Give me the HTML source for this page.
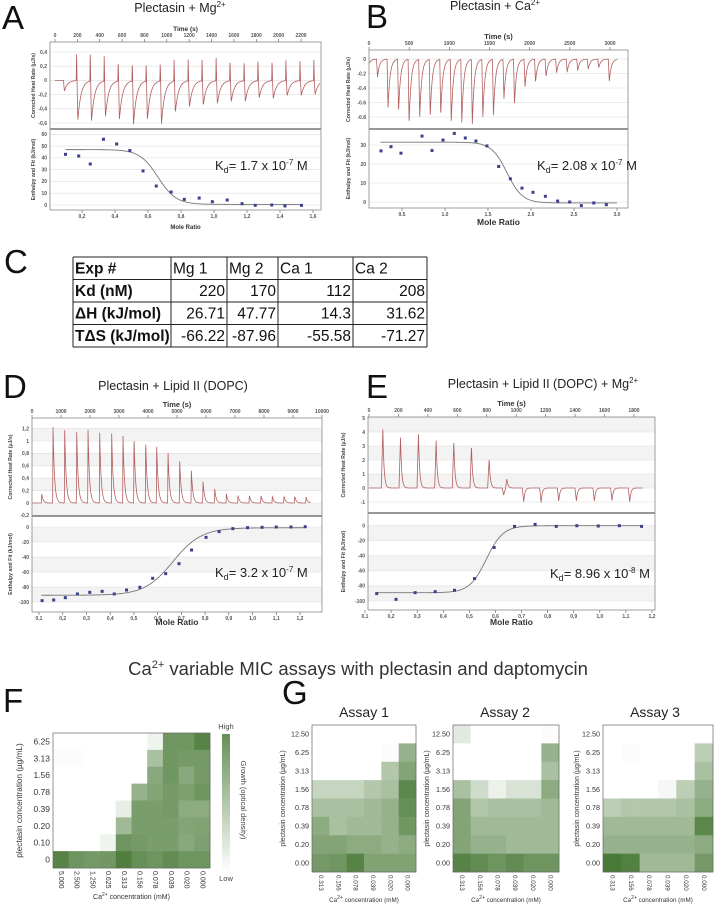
<!DOCTYPE html>
<html><head><meta charset="utf-8"><style>
html,body{margin:0;padding:0;background:#fff;}
svg{display:block;font-family:"Liberation Sans",sans-serif;}
</style></head><body>
<svg id="fig" width="716" height="906" viewBox="0 0 716 906" xmlns="http://www.w3.org/2000/svg"></svg>
<script>
// ---------- DATA ----------
// Panel A (Plectasin + Mg2+)
const A_TIMES=[70,190,312,437,562,688,812,938,1062,1188,1312,1438,1562,1688,1812,1938,2062,2188,2312];
const A_UP=[0,0.43,0.44,0.36,0.30,0.28,0.25,0.27,0.30,0.31,0.33,0.35,0.32,0.30,0.32,0.31,0.30,0.30,0.31];
const A_DIP=[-0.15,-0.57,-0.58,-0.52,-0.55,-0.62,-0.55,-0.62,-0.45,-0.38,-0.35,-0.33,-0.30,-0.30,-0.25,-0.26,-0.22,-0.22,-0.20];
const A_RATIO=[0.10,0.18,0.25,0.33,0.41,0.49,0.57,0.65,0.74,0.82,0.91,0.99,1.08,1.17,1.25,1.35,1.43,1.53];
const A_ENTH=[43,41.6,34.8,55.8,51.8,46.2,28.9,16.1,11,4.8,5.9,2.8,4.2,1.1,-0.3,0,-0.8,-0.3];
const A_FIT=[47,0.5,0.66,0.055];
const A_TIME_TICKS=[0,200,400,600,800,1000,1200,1400,1600,1800,2000,2200];
const A_HEAT_TICKS=[0.4,0.2,0,-0.2,-0.4,-0.6];
const A_ENTH_TICKS=[60,50,40,30,20,10,0];
const A_RATIO_TICKS=[0.2,0.4,0.6,0.8,1.0,1.2,1.4,1.6];
// Panel B (Plectasin + Ca2+)
const B_TIMES=[-40,91,222,353,484,616,747,878,1009,1140,1271,1402,1534,1665,1796,1927,2058,2189,2320,2452,2583,2714,2845,2976];
const B_DIP=[-0.18,-0.25,-0.68,-0.72,-0.89,-0.81,-0.79,-0.77,-0.88,-0.88,-0.9,-0.81,-0.78,-0.55,-0.62,-0.39,-0.32,-0.24,-0.19,-0.18,-0.16,-0.14,-0.12,-0.31];
const B_RATIO=[0.256,0.372,0.488,0.733,0.849,0.977,1.108,1.236,1.36,1.488,1.624,1.76,1.895,2.023,2.167,2.31,2.45,2.585,2.73,2.876];
const B_ENTH=[26.9,29.1,25.7,34.7,27.1,32.6,36.1,33.7,32.1,29.5,18.7,12.2,7.3,5.1,3.0,0.5,0,-1.9,-0.5,-1.4];
const B_FIT=[31.5,-0.5,1.72,0.09];
const B_TIME_TICKS=[0,500,1000,1500,2000,2500,3000];
const B_HEAT_TICKS=[0,-0.2,-0.4,-0.6,-0.8];
const B_ENTH_TICKS=[30,20,10,0];
const B_RATIO_TICKS=[0.5,1.0,1.5,2.0,2.5,3.0];
// Panel D (Plectasin + Lipid II)
const D_TIMES=[322,713,1115,1529,1920,2322,2736,3126,3506,3908,4287,4678,5080,5483,5885,6287,6690,7092,7483,7885,8276,8678,9046,9437];
const D_UP=[0.15,1.25,1.2,1.17,1.18,1.13,1.12,1.08,1.08,1.02,0.96,0.84,0.7,0.53,0.35,0.23,0.15,0.12,0.12,0.12,0.11,0.11,0.11,0.1];
const D_RATIO=[0.113,0.162,0.211,0.262,0.314,0.366,0.417,0.469,0.525,0.579,0.634,0.690,0.743,0.804,0.859,0.917,0.979,1.04,1.1,1.162,1.222];
const D_ENTH=[-98.2,-97.3,-94.2,-89.3,-87.1,-85.8,-89.3,-84,-80.4,-68.4,-62.2,-48.9,-30.7,-13.8,-6.2,-2.2,-0.9,-0.4,0,0,0.4];
const D_FIT=[-91,-1,0.665,0.06];
const D_TIME_TICKS=[0,1000,2000,3000,4000,5000,6000,7000,8000,9000,10000];
const D_HEAT_TICKS=[1.2,1.0,0.8,0.6,0.4,0.2,0,-0.2];
const D_ENTH_TICKS=[0,-20,-40,-60,-80,-100];
const D_RATIO_TICKS=[0.1,0.2,0.3,0.4,0.5,0.6,0.7,0.8,0.9,1.0,1.1,1.2];
// Panel E (Plectasin + Lipid II + Mg2+)
const E_TIMES=[84,204,326,446,566,686,806,905,926,1041,1159,1279,1399,1521,1641,1761];
const E_AMP=[4.3,3.6,3.9,3.4,3.3,3.0,2.1,-0.5,0.7,-1.0,-1.05,-0.95,-0.95,-0.95,-0.9,-1.0];
const E_RATIO=[0.145,0.219,0.292,0.369,0.443,0.52,0.595,0.673,0.752,0.833,0.912,0.994,1.075,1.16];
const E_ENTH=[-90.2,-97.8,-88.9,-87.6,-85.8,-70.2,-28.9,-0.9,1.8,-0.9,0,-0.4,0,-0.9];
const E_FIT=[-89,0,0.565,0.032];
const E_TIME_TICKS=[0,200,400,600,800,1000,1200,1400,1600,1800];
const E_HEAT_TICKS=[5,4,3,2,1,0,-1];
const E_ENTH_TICKS=[0,-20,-40,-60,-80,-100];
const E_RATIO_TICKS=[0.1,0.2,0.3,0.4,0.5,0.6,0.7,0.8,0.9,1.0,1.1,1.2];
// Table C
const TABLE_HEAD=["Exp #","Mg 1","Mg 2","Ca 1","Ca 2"];
const TABLE_ROWS=[["Kd (nM)","220","170","112","208"],["ΔH (kJ/mol)","26.71","47.77","14.3","31.62"],["TΔS (kJ/mol)","-66.22","-87.96","-55.58","-71.27"]];
// Heatmap F
const F_ROWS=["6.25","3.13","1.56","0.78","0.39","0.20","0.10","0"];
const F_COLS=["5.000","2.500","1.250","0.625","0.313","0.156","0.078","0.039","0.020","0.000"];
const F_VALUES=[
[0,0,0,0,0,0,0.08,0.75,0.75,0.88],
[0.02,0.02,0,0,0,0,0.45,0.75,0.72,0.72],
[0,0,0,0,0,0,0.62,0.75,0.62,0.72],
[0,0,0,0,0,0.55,0.65,0.72,0.68,0.76],
[0,0,0,0,0.12,0.7,0.7,0.72,0.6,0.6],
[0,0,0,0,0.5,0.7,0.7,0.7,0.65,0.66],
[0,0,0,0.08,0.76,0.72,0.7,0.7,0.62,0.68],
[0.88,0.76,0.72,0.74,0.92,0.8,0.76,0.82,0.76,0.76]];
// Heatmaps G
const G_ROWS=["12.50","6.25","3.13","1.56","0.78","0.39","0.20","0.00"];
const G_COLS=["0.313","0.156","0.078","0.039","0.020","0.000"];
const G1_VALUES=[
[0,0,0,0,0,0],[0,0,0,0,0.02,0.55],[0,0,0,0,0.4,0.65],[0.3,0.3,0.3,0.4,0.45,0.85],
[0.45,0.45,0.45,0.5,0.55,0.8],[0.6,0.45,0.5,0.5,0.55,0.75],[0.65,0.65,0.6,0.6,0.55,0.6],[0.72,0.75,0.88,0.66,0.66,0.66]];
const G2_VALUES=[
[0.15,0,0,0,0,0.02],[0,0,0,0,0,0.55],[0,0,0,0,0,0.45],[0.45,0.25,0.1,0.2,0.2,0.6],
[0.65,0.4,0.45,0.45,0.45,0.5],[0.65,0.5,0.5,0.5,0.5,0.5],[0.65,0.55,0.55,0.5,0.5,0.5],[0.88,0.82,0.76,0.82,0.76,0.76]];
const G3_VALUES=[
[0,0,0,0,0,0],[0,0.02,0,0,0,0.35],[0,0,0,0,0,0.45],[0,0,0,0.05,0.35,0.55],
[0.35,0.4,0.4,0.4,0.45,0.6],[0.5,0.5,0.5,0.5,0.5,0.86],[0.55,0.55,0.55,0.55,0.55,0.6],[0.95,0.9,0.5,0.5,0.5,0.72]];

// ---------- HELPERS ----------
const NS='http://www.w3.org/2000/svg';
const svg=document.getElementById('fig');
function mk(tag,attrs,parent){const e=document.createElementNS(NS,tag);for(const k in attrs)e.setAttribute(k,attrs[k]);(parent||svg).appendChild(e);return e;}
function txt(s,x,y,attrs,parent){const e=mk('text',Object.assign({x:x,y:y},attrs||{}),parent);e.textContent=s;return e;}
function pulse(dt,rise,tau){if(dt<0)return 0;if(dt<rise)return dt/rise;return Math.exp(-(dt-rise)/tau);}
function sig(r,f){return f[1]+(f[0]-f[1])/(1+Math.exp((r-f[2])/f[3]));}
function fmt(v,comma){let s=String(Math.round(v*10)/10);if(comma)s=s.replace('.',',');return s;}
function lin(d0,d1,p0,p1){return v=>p0+(v-d0)*(p1-p0)/(d1-d0);}

function letter(s,x,y){const t=txt(s,x,y,{'font-size':33,fill:'#111'});

}
function title(parts,cx,y,name){const t=mk('text',{x:cx,y:y,'font-size':12.5,'text-anchor':'middle',fill:'#222'});


const a=mk('tspan',{},t);a.textContent=parts[0];
if(parts[1]){const b=mk('tspan',{'font-size':8,dy:-5},t);b.textContent=parts[1];}}

function drawITC(p){
  const g=mk('g',{});
  
  
  const cid='clip-'+p.name;
  const cp=mk('clipPath',{id:cid},g);mk('rect',{x:p.x0,y:p.top,width:p.x1-p.x0,height:p.bot-p.top},cp);
  const tx=lin(p.tRef[0],p.tRef[1],p.tPix[0],p.tPix[1]);
  const hy=lin(p.hRef[0],p.hRef[1],p.hPix[0],p.hPix[1]);
  const ey=lin(p.eRef[0],p.eRef[1],p.ePix[0],p.ePix[1]);
  const rx=lin(p.rRef[0],p.rRef[1],p.rPix[0],p.rPix[1]);
  if(p.bands){
    const hb=p.heatTicks;for(let i=0;i<hb.length-1;i+=2){const y1=hy(hb[i]),y2=hy(hb[i+1]);mk('rect',{x:p.x0,y:Math.max(p.top,Math.min(y1,y2)),width:p.x1-p.x0,height:Math.abs(y2-y1),fill:'#f3f3f3'},g);}
    const eb=p.enthTicks;for(let i=0;i<eb.length-1;i+=2){const y1=ey(eb[i]),y2=ey(eb[i+1]);mk('rect',{x:p.x0,y:Math.min(y1,y2),width:p.x1-p.x0,height:Math.abs(y2-y1),fill:'#f3f3f3'},g);}
  }
  p.heatTicks.forEach(v=>{const y=hy(v);if(y>p.top&&y<p.mid)mk('line',{x1:p.x0,x2:p.x1,y1:y,y2:y,stroke:'#ddd','stroke-width':0.6},g);
    txt(fmt(v,p.comma),p.x0-3,y+1.8,{'font-size':5,'font-weight':'bold','text-anchor':'end',fill:'#555'},g);});
  p.enthTicks.forEach(v=>{const y=ey(v);if(y>p.mid&&y<p.bot)mk('line',{x1:p.x0,x2:p.x1,y1:y,y2:y,stroke:'#ddd','stroke-width':0.6},g);
    txt(String(v),p.x0-3,y+1.8,{'font-size':5,'font-weight':'bold','text-anchor':'end',fill:'#555'},g);});
  p.timeTicks.forEach(t=>{const x=tx(t);mk('line',{x1:x,x2:x,y1:p.top-3,y2:p.top,stroke:'#555','stroke-width':0.6},g);
    txt(String(t),x,p.top-5,{'font-size':5,'font-weight':'bold','text-anchor':'middle',fill:'#555'},g);});
  const tt=txt('Time (s)',(p.x0+p.x1)/2,p.top-11,{'font-size':p.tSize||6.5,'font-weight':'bold','text-anchor':'middle',fill:'#333'},g);
  
  
  p.ratioTicks.forEach(r=>{const x=rx(r);mk('line',{x1:x,x2:x,y1:p.bot,y2:p.bot+3,stroke:'#555','stroke-width':0.6},g);
    txt(fmt(r,p.comma).replace(/^(\d)$/,p.comma?'$1,0':'$1.0'),x,p.bot+8,{'font-size':5,'font-weight':'bold','text-anchor':'middle',fill:'#555'},g);});
  const mr=txt('Mole Ratio',(p.x0+p.x1)/2,p.bot+p.mrDy,{'font-size':p.mrSize,'font-weight':'bold','text-anchor':'middle',fill:'#333'},g);
  
  
  const yt1=txt('Corrected Heat Rate (µJ/s)',0,0,{'font-size':5.2,'font-weight':'bold','text-anchor':'middle',fill:'#444',transform:'translate('+p.ytx+','+((p.top+p.mid)/2)+') rotate(-90)'},g);
  
  
  const yt2=txt('Enthalpy and Fit (kJ/mol)',0,0,{'font-size':5.2,'font-weight':'bold','text-anchor':'middle',fill:'#444',transform:'translate('+p.ytx+','+((p.mid+p.bot)/2)+') rotate(-90)'},g);
  
  
  let d='';const N=1600;
  for(let i=0;i<=N;i++){const t=p.tStart+(p.tEnd-p.tStart)*i/N;let v=0;
    p.comps.forEach(c=>{c.times.forEach((t0,k)=>{v+=c.amps[k]*pulse(t-t0-c.delay,c.rise,c.tau);});});
    d+=(i?'L':'M')+tx(t).toFixed(2)+','+hy(v).toFixed(2);}
  const tr=mk('path',{d:d,fill:'none',stroke:'#b35f5f','stroke-width':0.8,'clip-path':'url(#'+cid+')'},g);
  
  
  let fd='';const M=300;
  for(let i=0;i<=M;i++){const r=p.fitFrom+(p.fitTo-p.fitFrom)*i/M;fd+=(i?'L':'M')+rx(r).toFixed(2)+','+ey(sig(r,p.fit)).toFixed(2);}
  const fl=mk('path',{d:fd,fill:'none',stroke:'#777','stroke-width':0.9},g);
  
  
  p.ratio.forEach((r,i)=>{const c=mk('rect',{x:rx(r)-1.5,y:ey(p.enth[i])-1.5,width:3,height:3,fill:'#3b3f8c'},g);
    
    });
  mk('rect',{x:p.x0,y:p.top,width:p.x1-p.x0,height:p.bot-p.top,fill:'none',stroke:'#888','stroke-width':0.8},g);
  mk('line',{x1:p.x0,x2:p.x1,y1:p.mid,y2:p.mid,stroke:'#888','stroke-width':1.8},g);
  const k=mk('text',{x:p.kd[0],y:p.kd[1],'font-size':13,fill:'#222'},g);
  
  
  const k1=mk('tspan',{},k);k1.textContent='K';
  const k2=mk('tspan',{'font-size':9,dy:3},k);k2.textContent='d';
  const k3=mk('tspan',{dy:-3},k);k3.textContent='= '+p.kd[2]+' x 10';
  const k4=mk('tspan',{'font-size':8,dy:-5},k);k4.textContent=p.kd[3];
  const k5=mk('tspan',{dy:5},k);k5.textContent=' M';
}

letter('A',2,29);title(['Plectasin + Mg','2+'],180,12,'panel-a-title');
drawITC({name:'panel-a-itc',x0:50,x1:321,top:42,mid:129,bot:210,tRef:[0,2200],tPix:[55,301],hRef:[0.4,-0.6],hPix:[52,123],eRef:[60,0],ePix:[134.3,205],rRef:[0.2,1.6],rPix:[82,313],
 timeTicks:A_TIME_TICKS,heatTicks:A_HEAT_TICKS,enthTicks:A_ENTH_TICKS,ratioTicks:A_RATIO_TICKS,comma:true,ytx:35,mrDy:19,mrSize:6,
 tStart:0,tEnd:2370,comps:[{times:A_TIMES,amps:A_UP,delay:0,rise:3,tau:3},{times:A_TIMES,amps:A_DIP,delay:6,rise:8,tau:28}],
 ratio:A_RATIO,enth:A_ENTH,fit:A_FIT,fitFrom:0.1,fitTo:1.53,kd:[215,170,'1.7','-7']});

letter('B',366,28);title(['Plectasin + Ca','2+'],495,10,'panel-b-title');
drawITC({name:'panel-b-itc',x0:369,x1:628,top:50,mid:129,bot:208,tRef:[0,3000],tPix:[369,610],hRef:[0,-0.8],hPix:[59,117],eRef:[30,0],ePix:[145,202],rRef:[0.5,3.0],rPix:[402,617],
 timeTicks:B_TIME_TICKS,heatTicks:B_HEAT_TICKS,enthTicks:B_ENTH_TICKS,ratioTicks:B_RATIO_TICKS,comma:false,ytx:350,mrDy:17,mrSize:8.5,tSize:7.5,
 tStart:0,tEnd:3090,comps:[{times:B_TIMES,amps:B_DIP,delay:3,rise:12,tau:25}],
 ratio:B_RATIO,enth:B_ENTH,fit:B_FIT,fitFrom:0.25,fitTo:3.0,kd:[537,170,'2.08','-7']});

letter('D',3,398);title(['Plectasin + Lipid II (DOPC)'],173,390,'panel-d-title');
drawITC({name:'panel-d-itc',x0:32,x1:322,top:418,mid:516,bot:612,tRef:[0,10000],tPix:[32,322],hRef:[1.2,0],hPix:[428.6,503],eRef:[0,-100],ePix:[527,602],rRef:[0.1,1.2],rPix:[39,300],
 timeTicks:D_TIME_TICKS,heatTicks:D_HEAT_TICKS,enthTicks:D_ENTH_TICKS,ratioTicks:D_RATIO_TICKS,comma:true,ytx:12,mrDy:13,mrSize:8.5,tSize:7.5,bands:true,
 tStart:0,tEnd:9600,comps:[{times:D_TIMES,amps:D_UP,delay:0,rise:12,tau:50}],
 ratio:D_RATIO,enth:D_ENTH,fit:D_FIT,fitFrom:0.11,fitTo:1.22,kd:[215,577,'3.2','-7']});

letter('E',366,398);title(['Plectasin + Lipid II (DOPC) + Mg','2+'],543,388,'panel-e-title');
drawITC({name:'panel-e-itc',x0:368,x1:655,top:417,mid:513,bot:610,tRef:[0,1800],tPix:[369,634],hRef:[1,0],hPix:[474,488],eRef:[0,-100],ePix:[525.7,601],rRef:[0.1,1.2],rPix:[365,652],
 timeTicks:E_TIME_TICKS,heatTicks:E_HEAT_TICKS,enthTicks:E_ENTH_TICKS,ratioTicks:E_RATIO_TICKS,comma:true,ytx:345,mrDy:15,mrSize:8.5,tSize:7.5,bands:true,
 tStart:0,tEnd:1861,comps:[{times:E_TIMES,amps:E_AMP,delay:0,rise:10,tau:8}],
 ratio:E_RATIO,enth:E_ENTH,fit:E_FIT,fitFrom:0.14,fitTo:1.16,kd:[550,578,'8.96','-8']});

letter('C',4,273);
(function(){
  const g=mk('g',{});
  
  
  const cols=[73,171,227,278,353,427];const top=257,rh=22.5;
  const rows=[TABLE_HEAD].concat(TABLE_ROWS);
  rows.forEach((row,ri)=>{row.forEach((c,ci)=>{
    const y=top+rh*ri+16.5;const bold=ci===0;const right=ri>0&&ci>0;
    const t=txt(c,right?cols[ci+1]-2:cols[ci]+2,y,{'font-size':15.5,'font-weight':bold?'bold':'normal','text-anchor':right?'end':'start',fill:'#111'},g);
    
    });});
  for(let i=0;i<=rows.length;i++)mk('line',{x1:cols[0],x2:cols[5],y1:top+rh*i,y2:top+rh*i,stroke:'#222','stroke-width':1},g);
  cols.forEach(x=>mk('line',{x1:x,x2:x,y1:top,y2:top+rh*rows.length,stroke:'#222','stroke-width':1},g));
})();

function heatColor(v){const r=Math.round(255+(64-255)*v),gg=Math.round(255+(115-255)*v),b=Math.round(255+(45-255)*v);return 'rgb('+r+','+gg+','+b+')';}
function drawHeat(name,x0,y0,w,h,vals,rows,cols,fs,xfs,ytx,xtitleY){
  const g=mk('g',{});
  
  
  const cw=w/cols.length,ch=h/rows.length;
  vals.forEach((row,ri)=>row.forEach((v,ci)=>{const c=mk('rect',{x:x0+ci*cw,y:y0+ri*ch,width:cw+0.3,height:ch+0.3,fill:heatColor(v)},g);
    
    }));
  mk('rect',{x:x0,y:y0,width:w,height:h,fill:'none',stroke:'#666','stroke-width':0.7},g);
  rows.forEach((r,i)=>txt(r,x0-3,y0+(i+0.5)*ch+fs*0.35,{'font-size':fs,'text-anchor':'end',fill:'#333'},g));
  cols.forEach((c,i)=>{const x=x0+(i+0.5)*cw;txt(c,x,y0+h+3,{'font-size':xfs,'text-anchor':'start','dominant-baseline':'middle',fill:'#333',transform:'rotate(90 '+x+' '+(y0+h+3)+')'},g);});
  const yt=txt('plectasin concentration (µg/mL)',0,0,{'font-size':fs-0.3,'text-anchor':'middle',fill:'#333',transform:'translate('+ytx+','+(y0+h/2)+') rotate(-90)'},g);
  
  
  const xt=mk('text',{x:x0+w/2,y:xtitleY,'font-size':xfs,'text-anchor':'middle',fill:'#333'},g);
  
  
  const a=mk('tspan',{},xt);a.textContent='Ca';const b=mk('tspan',{'font-size':5,dy:-3},xt);b.textContent='2+';const c=mk('tspan',{dy:3},xt);c.textContent=' concentration (mM)';
}
(function(){const t=mk('text',{x:358,y:675,'font-size':18.5,'text-anchor':'middle',fill:'#333'});
 
 
 const a=mk('tspan',{},t);a.textContent='Ca';const b=mk('tspan',{'font-size':11,dy:-7},t);b.textContent='2+';const c=mk('tspan',{dy:7},t);c.textContent=' variable MIC assays with plectasin and daptomycin';})();
letter('F',3,712);
drawHeat('heatmap-f',53,733,157,135,F_VALUES,F_ROWS,F_COLS,8.5,7,22,899);
(function(){const defs=mk('defs',{});const lg=mk('linearGradient',{id:'cbar',x1:0,y1:0,x2:0,y2:1},defs);
 mk('stop',{offset:0,'stop-color':heatColor(0.8)},lg);mk('stop',{offset:1,'stop-color':'#ffffff'},lg);
 const r=mk('rect',{x:222,y:734,width:8,height:139,fill:'url(#cbar)'});
 
 
 txt('High',226,729,{'font-size':7.5,'text-anchor':'middle',fill:'#444'});
 txt('Low',226,881,{'font-size':7.5,'text-anchor':'middle',fill:'#444'});
 const gt=txt('Growth (optical density)',0,0,{'font-size':7.5,'text-anchor':'middle',fill:'#444',transform:'translate(241,800) rotate(90)'});
 
 })();
letter('G',282,704);
[['Assay 1',312],['Assay 2',453],['Assay 3',603]].forEach(a=>{const t=txt(a[0],a[1]+52,717,{'font-size':14,'text-anchor':'middle',fill:'#222'});
 
 });
drawHeat('heatmap-g-assay1',312,725,104,147,G1_VALUES,G_ROWS,G_COLS,7.2,6.3,285,902);
drawHeat('heatmap-g-assay2',453,725,106,147,G2_VALUES,G_ROWS,G_COLS,7.2,6.3,429,902);
drawHeat('heatmap-g-assay3',603,725,110,147,G3_VALUES,G_ROWS,G_COLS,7.2,6.3,579,902);
</script>
</body></html>
